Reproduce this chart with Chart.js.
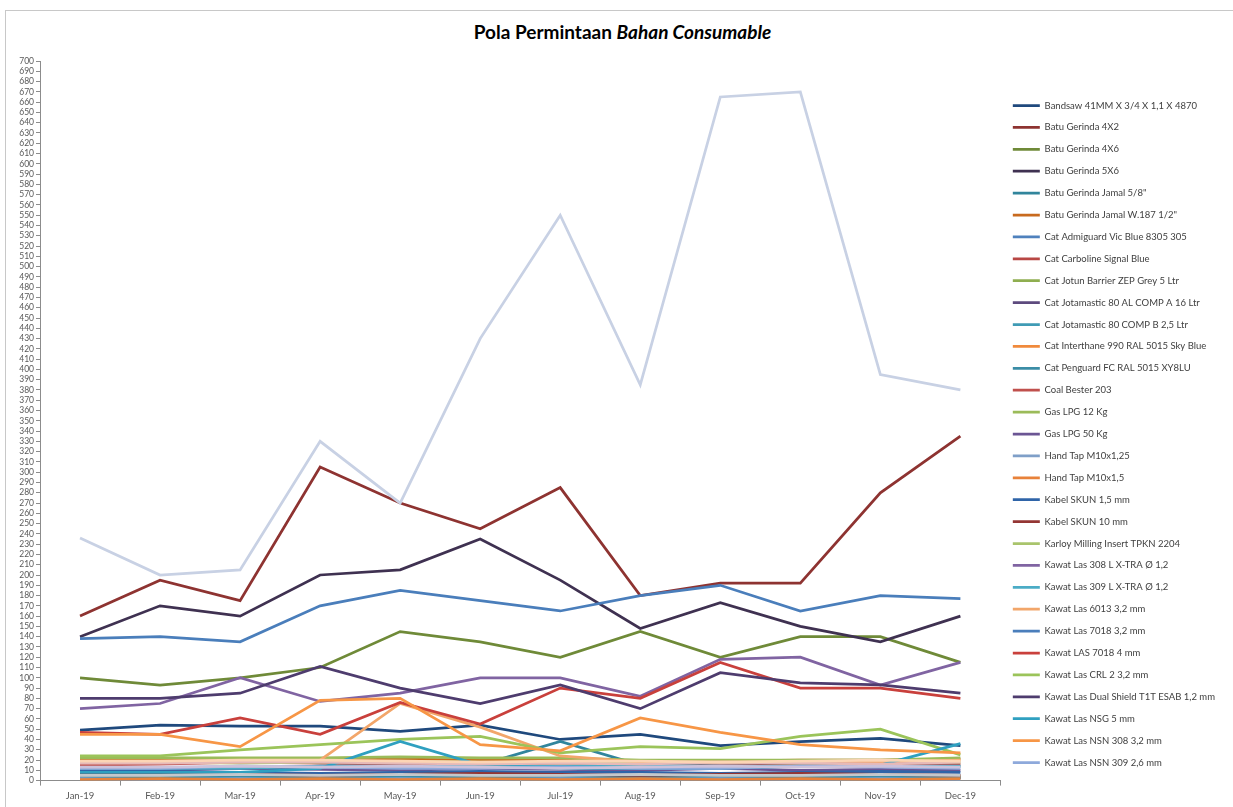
<!DOCTYPE html>
<html>
<head>
<meta charset="utf-8">
<script src="https://cdn.jsdelivr.net/npm/chart.js@4.4.0/dist/chart.umd.min.js"></script>
<style>
html, body { margin: 0; padding: 0; background: #fff; }
#frame { position: absolute; left: 5px; top: 10px; width: 1240px; height: 810px; border: 1px solid #c8c8c8; }
#title { position: absolute; left: 6px; width: 1233px; top: 20px; text-align: center; font: bold 19px Lato, sans-serif; color: #000; }
#wrap { position: absolute; left: 0; top: 0; width: 1233px; height: 807px; }
</style>
</head>
<body>
<div id="frame"></div>
<div id="title">Pola Permintaan <i>Bahan Consumable</i></div>
<div id="wrap"><canvas id="chart"></canvas></div>
<script>
const months = ["Jan-19", "Feb-19", "Mar-19", "Apr-19", "May-19", "Jun-19", "Jul-19", "Aug-19", "Sep-19", "Oct-19", "Nov-19", "Dec-19"];

// series values
const bandsaw       = [49, 54, 53, 53, 48, 54, 40, 45, 34, 38, 41, 34];
const batu4x2       = [160, 195, 175, 305, 270, 245, 285, 180, 192, 192, 280, 335];
const batu4x6       = [100, 93, 100, 110, 145, 135, 120, 145, 120, 140, 140, 115];
const batu5x6       = [140, 170, 160, 200, 205, 235, 195, 148, 173, 150, 135, 160];
const jamal58       = [12, 12, 12, 14, 15, 15, 38, 15, 14, 14, 14, 14];
const jamalW187     = [20, 20, 21, 20, 21, 20, 20, 18, 19, 20, 20, 21];
const admiguard     = [3, 2, 4, 2, 3, 2, 4, 3, 2, 3, 4, 5];
const carboline     = [2, 3, 2, 4, 3, 2, 3, 2, 4, 3, 2, 3];
const jotunBarrier  = [4, 3, 5, 4, 6, 3, 4, 5, 3, 4, 5, 4];
const jotamasticA   = [2, 2, 3, 2, 2, 3, 2, 2, 3, 2, 2, 3];
const jotamasticB   = [2, 2, 3, 2, 2, 3, 2, 2, 3, 2, 2, 3];
const interthane    = [3, 4, 3, 4, 3, 4, 3, 4, 3, 4, 3, 4];
const penguard      = [3, 3, 4, 3, 4, 3, 3, 4, 3, 3, 4, 3];
const coalBester    = [15, 16, 18, 17, 16, 15, 16, 15, 17, 16, 15, 16];
const lpg12         = [22, 22, 22, 22, 23, 22, 22, 20, 20, 20, 20, 22];
const lpg50         = [10, 10, 12, 11, 10, 12, 11, 10, 12, 10, 11, 10];
const tap125        = [2, 1, 2, 1, 2, 1, 2, 1, 2, 1, 2, 1];
const tap15         = [1, 2, 1, 2, 1, 2, 1, 2, 1, 2, 1, 2];
const skun15        = [9, 9, 8, 7, 8, 9, 8, 8, 7, 8, 9, 8];
const skun10        = [6, 7, 6, 5, 6, 7, 6, 5, 6, 7, 6, 5];
const karloy        = [18, 18, 17, 18, 19, 18, 17, 18, 18, 17, 18, 18];
const las308        = [70, 75, 100, 77, 85, 100, 100, 82, 118, 120, 93, 115];
const las309        = [12, 12, 12, 14, 14, 14, 14, 15, 14, 14, 14, 14];
const las6013       = [18, 18, 18, 20, 75, 52, 24, 18, 18, 18, 18, 20];
const las7018_32    = [138, 140, 135, 170, 185, 175, 165, 180, 190, 165, 180, 177];
const las7018_4     = [47, 45, 61, 45, 76, 55, 90, 80, 115, 90, 90, 80];
const lasCrl2       = [24, 24, 30, 35, 40, 43, 27, 33, 31, 43, 50, 25];
const dualShield    = [80, 80, 85, 111, 90, 75, 93, 70, 105, 95, 93, 85];
const nsg5          = [8, 8, 8, 12, 38, 15, 12, 12, 12, 14, 15, 36];
const nsn308        = [45, 45, 33, 78, 80, 35, 29, 61, 47, 35, 30, 27];
const nsn309        = [12, 12, 14, 13, 12, 12, 13, 12, 12, 14, 13, 12];
// further series that the legend of the picture cuts off
const extraPale     = [236, 200, 205, 330, 270, 430, 550, 385, 665, 670, 395, 380];
const extraPink     = [17, 17, 18, 18, 17, 16, 17, 16, 18, 17, 16, 18];
const extraPeach    = [19, 19, 20, 20, 19, 18, 19, 19, 18, 19, 20, 19];
const extraLilac    = [13, 13, 14, 13, 14, 13, 12, 13, 14, 13, 14, 13];
const extraGrey     = [5, 5, 6, 5, 6, 5, 5, 6, 5, 5, 6, 5];

const seriesNames = [
  "Bandsaw 41MM X 3/4 X 1,1 X 4870", "Batu Gerinda 4X2", "Batu Gerinda 4X6", "Batu Gerinda 5X6",
  "Batu Gerinda Jamal 5/8\"", "Batu Gerinda Jamal W.187 1/2\"", "Cat Admiguard Vic Blue 8305 305",
  "Cat Carboline Signal Blue", "Cat Jotun Barrier ZEP Grey 5 Ltr", "Cat Jotamastic 80 AL COMP A 16 Ltr",
  "Cat Jotamastic 80 COMP B 2,5 Ltr", "Cat Interthane 990 RAL 5015 Sky Blue", "Cat Penguard FC RAL 5015 XY8LU",
  "Coal Bester 203", "Gas LPG 12 Kg", "Gas LPG 50 Kg", "Hand Tap M10x1,25", "Hand Tap M10x1,5",
  "Kabel SKUN 1,5 mm", "Kabel SKUN 10 mm", "Karloy Milling Insert TPKN 2204", "Kawat Las 308 L X-TRA Ø 1,2",
  "Kawat Las 309 L X-TRA Ø 1,2", "Kawat Las 6013 3,2 mm", "Kawat Las 7018 3,2 mm", "Kawat LAS 7018 4 mm",
  "Kawat Las CRL 2 3,2 mm", "Kawat Las Dual Shield T1T ESAB 1,2 mm", "Kawat Las NSG 5 mm",
  "Kawat Las NSN 308 3,2 mm", "Kawat Las NSN 309 2,6 mm",
  "Lainnya 1", "Lainnya 2", "Lainnya 3", "Lainnya 4", "Lainnya 5"
];
const seriesValues = [
  bandsaw, batu4x2, batu4x6, batu5x6, jamal58, jamalW187, admiguard, carboline, jotunBarrier,
  jotamasticA, jotamasticB, interthane, penguard, coalBester, lpg12, lpg50, tap125, tap15,
  skun15, skun10, karloy, las308, las309, las6013, las7018_32, las7018_4, lasCrl2, dualShield,
  nsg5, nsn308, nsn309, extraPale, extraPink, extraPeach, extraLilac, extraGrey
];
const legendCount = 31;

const seriesColors = [
  "#1f497d", "#8e3331", "#6f8a38", "#3f3151", "#31859c", "#c86a1e",
  "#4f81bd", "#b84744", "#8fae50", "#5d4a7e", "#3f9bb5", "#f08a3c",
  "#3b8da6", "#c0504d", "#9bbb59", "#6b5594", "#7f9fc8", "#e8823a",
  "#2f64a8", "#943634", "#a9c46c", "#8064a2", "#4bacc6", "#f2a66a",
  "#4a7ebb", "#c9403c", "#9bc45a", "#4e3c6e", "#2fa0c0", "#f79646",
  "#8ea9db",
  "#c8d1e4", "#e6b9b8", "#fcd5b5", "#ccc1da", "#c4c8cc"
];

const datasets = seriesNames.map((name, i) => ({
  label: name,
  data: seriesValues[i],
  borderColor: seriesColors[i],
  backgroundColor: seriesColors[i],
  borderWidth: 2.75,
  pointRadius: 0,
  tension: 0,
  order: 100 - i
}));

const ctx = document.getElementById("chart");
new Chart(ctx, {
  type: "line",
  data: { labels: months, datasets },
  options: {
    responsive: true,
    maintainAspectRatio: false,
    animation: false,
    layout: { padding: { top: 61, right: 8, bottom: 0, left: 0 } },
    plugins: {
      title: { display: false },
      tooltip: { enabled: false },
      legend: {
        position: "right",
        labels: {
          usePointStyle: true,
          pointStyle: "line",
          pointStyleWidth: 27,
          padding: 12.4,
          color: "#404040",
          font: { family: "Lato", size: 9.5 },
          filter: item => item.datasetIndex < legendCount,
          sort: (a, b) => a.datasetIndex - b.datasetIndex
        }
      }
    },
    scales: {
      x: {
        offset: true,
        grid: { offset: true, drawOnChartArea: false, tickLength: 5, color: "#8c8c8c" },
        border: { color: "#8c8c8c" },
        ticks: { color: "#595959", font: { family: "Lato", size: 9.5 }, maxRotation: 0, padding: 5 }
      },
      y: {
        min: 0,
        max: 700,
        afterFit: scale => { scale.width = 40; },
        grid: { drawOnChartArea: false, tickLength: 4, color: "#8c8c8c" },
        border: { color: "#8c8c8c" },
        ticks: { stepSize: 10, autoSkip: false, color: "#595959", font: { family: "Lato", size: 8.5 }, padding: 2 }
      }
    }
  }
});
</script>
</body>
</html>
